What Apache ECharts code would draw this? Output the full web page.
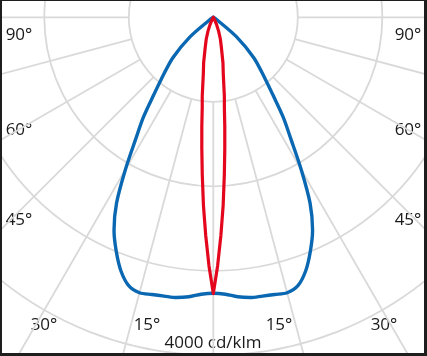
<!DOCTYPE html>
<html>
<head>
<meta charset="utf-8">
<script src="https://cdn.jsdelivr.net/npm/echarts@6/dist/echarts.min.js"></script>
<style>
html,body{margin:0;padding:0;background:#1e1e1e;width:427px;height:356px;overflow:hidden;}
#c{position:absolute;left:2px;top:1px;width:422px;height:352px;background:#fff;}
</style>
</head>
<body>
<div id="c"></div>
<script>
// C0-180 plane (blue), angle in degrees from nadir, value in cd/klm
const blueAngles = [0, 2.5, 5, 7.5, 10, 12.5, 15, 17.5, 20, 22.5, 25, 27.5, 30, 32.5, 35, 37.5, 40, 45, 50, 55, 57];
const blueValues = [3265, 3280, 3320, 3345, 3350, 3360, 3375, 3330, 3195, 3000, 2780, 2480, 2080, 1710, 1440, 1160, 960, 680, 360, 60, 0];
// C90-270 plane (red)
const redAngles = [0, 1, 2, 3, 4, 5, 6, 7, 8, 10, 12, 15, 18, 21, 24, 27, 30];
const redValues = [3270, 2940, 2580, 2230, 1870, 1560, 1300, 1075, 940, 680, 550, 370, 270, 175, 95, 35, 0];
// tick labels
const angleLabels = ['90°', '60°', '45°', '30°', '15°'];
const scaleLabel = '4000 cd/klm';

function mirror(angles, values) {
  const out = [];
  for (let i = angles.length - 1; i >= 0; i--) out.push([values[i], angles[i]]);
  for (let i = 1; i < angles.length; i++) out.push([values[i], 360 - angles[i]]);
  return out;
}

const chart = echarts.init(document.getElementById('c'));
const cx = 211.3, cy = 16.3;
const gridColor = '#d9d9d9';
const txt = (t, x, y) => ({
  type: 'text', x: x, y: y,
  style: { text: t, fill: '#1a1a1a', font: '17px "Open Sans", sans-serif', align: 'center', verticalAlign: 'middle' }
});
chart.setOption({
  animation: false,
  polar: [
    { center: [cx, cy], radius: [84.5, 507] },
    { center: [cx, cy], radius: [0, 507] }
  ],
  angleAxis: [
    { polarIndex: 0, type: 'value', min: 0, max: 360, interval: 15, startAngle: 270, clockwise: true,
      axisLine: { show: false }, axisTick: { show: false }, axisLabel: { show: false },
      splitLine: { show: true, lineStyle: { color: gridColor, width: 1.8 } } },
    { polarIndex: 1, type: 'value', min: 0, max: 360, interval: 15, startAngle: 270, clockwise: true,
      axisLine: { show: false }, axisTick: { show: false }, axisLabel: { show: false }, splitLine: { show: false } }
  ],
  radiusAxis: [
    { polarIndex: 0, type: 'value', min: 1000, max: 6000, interval: 1000,
      axisLine: { show: false }, axisTick: { show: false }, axisLabel: { show: false },
      splitLine: { show: true, lineStyle: { color: gridColor, width: 1.8 } } },
    { polarIndex: 1, type: 'value', min: 0, max: 6000, interval: 1000,
      axisLine: { show: false }, axisTick: { show: false }, axisLabel: { show: false }, splitLine: { show: false } }
  ],
  series: [
    { type: 'line', coordinateSystem: 'polar', polarIndex: 1, data: mirror(blueAngles, blueValues),
      symbol: 'none', smooth: 0.3, lineStyle: { color: '#0a68b2', width: 3.4, cap: 'round', join: 'round' }, z: 3 },
    { type: 'line', coordinateSystem: 'polar', polarIndex: 1, data: mirror(redAngles, redValues),
      symbol: 'none', smooth: false, lineStyle: { color: '#e3061d', width: 3.2, cap: 'round', join: 'round' }, z: 4 }
  ],
  graphic: [
    txt(angleLabels[0], 17, 34), txt(angleLabels[0], 406, 34),
    txt(angleLabels[1], 17, 129), txt(angleLabels[1], 406, 129),
    txt(angleLabels[2], 17, 219), txt(angleLabels[2], 406, 219),
    txt(angleLabels[3], 42, 324), txt(angleLabels[3], 382, 324),
    txt(angleLabels[4], 145, 324), txt(angleLabels[4], 277, 324),
    txt(scaleLabel, 211, 342)
  ]
});
</script>
</body>
</html>
